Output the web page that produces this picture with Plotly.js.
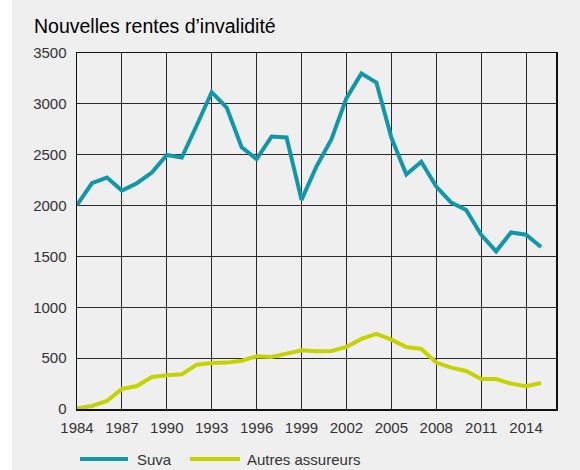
<!DOCTYPE html>
<html>
<head>
<meta charset="utf-8">
<script src="https://cdn.plot.ly/plotly-3.0.1.min.js"></script>
<style>
html,body{margin:0;padding:0;background:#ffffff;}
#chart{position:absolute;left:12px;top:0;width:568px;height:470px;}
</style>
</head>
<body>
<div id="chart"></div>
<script>
const years = [1984,1985,1986,1987,1988,1989,1990,1991,1992,1993,1994,1995,1996,1997,1998,1999,2000,2001,2002,2003,2004,2005,2006,2007,2008,2009,2010,2011,2012,2013,2014,2015];
const suva = [2005,2220,2275,2148,2220,2325,2498,2472,2790,3115,2964,2574,2456,2679,2669,2056,2384,2652,3056,3298,3210,2669,2305,2430,2187,2030,1957,1713,1550,1736,1713,1592];
const autres = [7,30,79,197,226,315,331,341,436,452,456,475,518,511,544,577,567,570,610,689,738,682,610,590,457,407,374,295,295,249,223,256];
const seriesNames = ["Suva","Autres assureurs"];
const seriesColors = ["#1097a8","#c6d300"];
const yTicks = [0,500,1000,1500,2000,2500,3000,3500];
const xTicks = [1984,1987,1990,1993,1996,1999,2002,2005,2008,2011,2014];
const chartTitle = "Nouvelles rentes d\u2019invalidité";

const W = 568, H = 470;
const ML = 65, MR = 24, MT = 53, MB = 61;
const PW = W - ML - MR, PH = H - MT - MB;
const traces = [
  {x: years, y: suva, name: seriesNames[0], type:'scatter', mode:'lines',
   line:{color:seriesColors[0], width:4, shape:'linear'}, showlegend:false},
  {x: years, y: autres, name: seriesNames[1], type:'scatter', mode:'lines',
   line:{color:seriesColors[1], width:4, shape:'linear'}, showlegend:false}
];

const baseFamily = '"Liberation Sans", Arial, sans-serif';
const tickFont = {family:baseFamily, size:15, color:'#333333'};
const legYpx = 459;
const legY = -(legYpx - (H - MB)) / PH;
const px2x = p => (p - 12 - ML) / PW;
const layout = {
  width: W, height: H,
  paper_bgcolor:'#efefef', plot_bgcolor:'#efefef',
  margin:{l:ML, r:MR, t:MT, b:MB},
  title:{text: chartTitle, xref:'container', yref:'container', x:22/W, xanchor:'left', y:1-26/H, yanchor:'middle',
         font:{family:baseFamily, size:19.5, color:'#000000'}},
  xaxis:{range:[1984,2016], tickmode:'array', tickvals:xTicks, ticktext:xTicks.map(String),
         showgrid:true, gridcolor:'#2a2a2a', gridwidth:1, zeroline:false,
         showline:true, linecolor:'#111111', linewidth:1.5, mirror:true, ticks:'', ticklabelstandoff:4,
         tickfont:tickFont, fixedrange:true},
  yaxis:{range:[0,3500], tickmode:'array', tickvals:yTicks, ticktext:yTicks.map(String),
         showgrid:true, gridcolor:'#2a2a2a', gridwidth:1, zeroline:false,
         showline:true, linecolor:'#111111', linewidth:1.5, mirror:true, ticks:'', ticklabelstandoff:6,
         tickfont:tickFont, fixedrange:true},
  showlegend:false,
  shapes: [
    {type:'line', xref:'paper', yref:'paper', x0:px2x(80), x1:px2x(128), y0:legY, y1:legY, line:{color:seriesColors[0], width:4}},
    {type:'line', xref:'paper', yref:'paper', x0:px2x(190), x1:px2x(240), y0:legY, y1:legY, line:{color:seriesColors[1], width:4}}
  ],
  annotations: [
    {xref:'paper', yref:'paper', x:px2x(135), y:legY, xanchor:'left', yanchor:'middle', showarrow:false, text:seriesNames[0], font:tickFont},
    {xref:'paper', yref:'paper', x:px2x(245), y:legY, xanchor:'left', yanchor:'middle', showarrow:false, text:seriesNames[1], font:tickFont}
  ]
};
Plotly.newPlot('chart', traces, layout, {displayModeBar:false, staticPlot:true});
</script>
</body>
</html>
